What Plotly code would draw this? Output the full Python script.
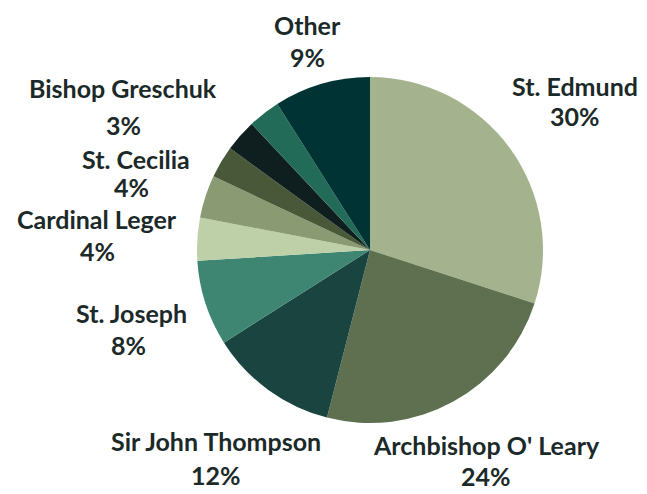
import plotly.graph_objects as go

schools = ["St. Edmund", "Archbishop O' Leary", "Sir John Thompson", "St. Joseph",
           "Cardinal Leger", "St. Cecilia", "Unlabeled A", "Unlabeled B",
           "Bishop Greschuk", "Other"]
shares = [30, 24, 12, 8, 4, 4, 3, 3, 3, 9]
show_label = [True, True, True, True, True, True, False, False, True, True]
colors = ["#A4B38E", "#5E7050", "#1A4440", "#3E8672", "#BDD0A8",
          "#8A9A72", "#485838", "#0F1E1E", "#226B58", "#003333"]

# label line centres in screen pixels (layout only): (name line), (percent line)
name_xy = [(575, 86), (486, 445), (216, 441), (132, 313),
           (97, 219), (136, 159), None, None, (123, 88), (307, 25)]
pct_xy = [(575, 116), (486, 476), (216, 475), (128, 345),
          (97, 251), (132, 187), None, None, (123, 125), (307, 57)]

W, H = 647, 494
OFF = 8  # page body margin offset


def px(x):
    return (x - OFF) / W


def py(y):
    return 1 - (y - OFF) / H


cx, cy, r = 370, 250, 173
fig = go.Figure(go.Pie(
    labels=schools, values=shares, textinfo="none",
    sort=False, direction="clockwise", rotation=0,
    marker=dict(colors=colors, line=dict(width=0)),
    domain=dict(x=[px(cx - r), px(cx + r)], y=[py(cy + r), py(cy - r)]),
    showlegend=False, hoverinfo="label+percent",
))

font = dict(family="Lato", size=25, color="#1B2929", weight="bold")
for name, v, show, p1, p2 in zip(schools, shares, show_label, name_xy, pct_xy):
    if not show:
        continue
    for txt, pos in ((name, p1), (f"{v}%", p2)):
        fig.add_annotation(
            x=px(pos[0]), y=py(pos[1]), xref="paper", yref="paper",
            text=txt, showarrow=False, align="center", borderpad=0,
            xanchor="center", yanchor="middle", font=font,
        )

fig.update_layout(width=W, height=H, margin=dict(l=0, r=0, t=0, b=0),
                  paper_bgcolor="white", plot_bgcolor="white")
fig.write_html("out.html")
